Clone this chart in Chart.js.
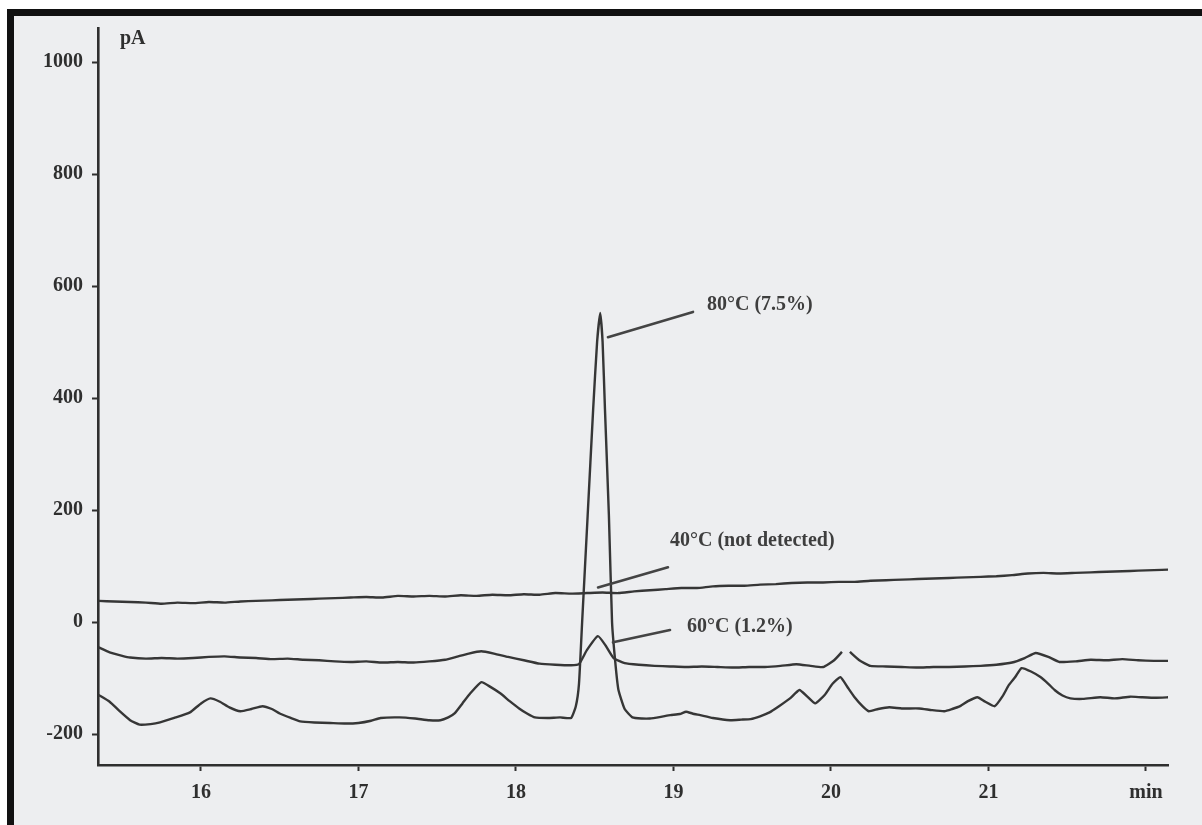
<!DOCTYPE html>
<html>
<head>
<meta charset="utf-8">
<script src="https://cdn.jsdelivr.net/npm/chart.js@4/dist/chart.umd.min.js"></script>
<style>
  html, body { margin: 0; padding: 0; background: #ffffff; }
  #wrap { width: 1202px; height: 825px; }
</style>
</head>
<body>
<div id="wrap"><canvas id="gc" width="1202" height="825"></canvas></div>
<script>
// Retention time (min) and detector signal (pA) for each extraction temperature
const t40 = [15.35, 15.45, 15.55, 15.65, 15.75, 15.85, 15.95, 16.05, 16.15, 16.25,
             16.35, 16.45, 16.55, 16.65, 16.75, 16.85, 16.95, 17.05, 17.15, 17.25,
             17.35, 17.45, 17.55, 17.65, 17.75, 17.85, 17.95, 18.05, 18.15, 18.25,
             18.35, 18.45, 18.55, 18.65, 18.75, 18.85, 18.95, 19.05, 19.15, 19.25,
             19.35, 19.45, 19.55, 19.65, 19.75, 19.85, 19.95, 20.05, 20.15, 20.25,
             20.35, 20.45, 20.55, 20.65, 20.75, 20.85, 20.95, 21.05, 21.15, 21.25,
             21.35, 21.45, 21.55, 21.65, 21.75, 21.85, 21.95, 22.05, 22.15];
const v40 = [38, 37, 36, 35, 33, 35, 34, 36, 35, 37,
             38, 39, 40, 41, 42, 43, 44, 45, 44, 47,
             46, 47, 46, 48, 47, 49, 48, 50, 49, 52,
             51, 52, 53, 52, 55, 57, 59, 61, 61, 64,
             65, 65, 67, 68, 70, 71, 71, 72, 72, 74,
             75, 76, 77, 78, 79, 80, 81, 82, 84, 87,
             88, 87, 88, 89, 90, 91, 92, 93, 94];

const t60 = [15.35, 15.42, 15.5, 15.55, 15.65, 15.75, 15.85, 15.95, 16.05, 16.15,
             16.25, 16.35, 16.45, 16.55, 16.65, 16.75, 16.85, 16.95, 17.05, 17.15,
             17.25, 17.35, 17.45, 17.55, 17.62, 17.7, 17.78, 17.86, 17.95, 18.05,
             18.15, 18.25, 18.35, 18.4, 18.45, 18.52, 18.57, 18.62, 18.69, 18.78,
             18.88, 18.98, 19.08, 19.18, 19.28, 19.38, 19.48, 19.58, 19.68, 19.78,
             19.87, 19.95, 20.02, 20.07, 20.095, 20.12, 20.18, 20.25, 20.35, 20.45,
             20.55, 20.65, 20.75, 20.85, 20.95, 21.05, 21.15, 21.23, 21.3, 21.38,
             21.45, 21.55, 21.65, 21.75, 21.85, 21.95, 22.05, 22.15];
const v60 = [-45, -54, -60, -63, -65, -64, -65, -64, -62, -61,
             -63, -64, -66, -65, -67, -68, -70, -71, -70, -72,
             -71, -72, -70, -67, -62, -56, -52, -56, -62, -68,
             -74, -76, -77, -75, -50, -25, -42, -64, -73, -76,
             -78, -79, -80, -79, -80, -81, -80, -80, -78, -75,
             -78, -80, -68, -53, null, -53, -68, -78, -79, -80,
             -81, -80, -80, -79, -78, -76, -72, -64, -55, -62,
             -71, -70, -67, -68, -66, -68, -69, -69];

const t80 = [15.35, 15.42, 15.48, 15.55, 15.61, 15.68, 15.74, 15.83, 15.93, 16.0,
             16.06, 16.12, 16.18, 16.25, 16.32, 16.39, 16.45, 16.5, 16.57, 16.63,
             16.72, 16.82, 16.92, 17.0, 17.08, 17.14, 17.26, 17.36, 17.45, 17.52,
             17.57, 17.61, 17.66, 17.71, 17.78, 17.84, 17.9, 17.96, 18.02, 18.07,
             18.12, 18.2, 18.28, 18.35, 18.38, 18.4, 18.42, 18.455, 18.49, 18.515,
             18.535, 18.55, 18.565, 18.59, 18.61, 18.63, 18.65, 18.69, 18.74, 18.8,
             18.85, 18.92, 18.98, 19.04, 19.08, 19.12, 19.17, 19.25, 19.36, 19.43,
             19.49, 19.55, 19.61, 19.67, 19.74, 19.8, 19.85, 19.9, 19.96, 20.01,
             20.06, 20.11, 20.15, 20.2, 20.24, 20.3, 20.37, 20.45, 20.56, 20.64,
             20.72, 20.77, 20.82, 20.87, 20.93, 20.98, 21.04, 21.09, 21.13, 21.17,
             21.21, 21.27, 21.33, 21.38, 21.42, 21.47, 21.52, 21.6, 21.71, 21.8,
             21.9, 21.97, 22.06, 22.15];
const v80 = [-130, -142, -158, -175, -183, -182, -179, -171, -161, -145,
             -136, -142, -152, -159, -155, -150, -155, -163, -171, -177,
             -179, -180, -181, -180, -176, -171, -170, -172, -175, -175,
             -170, -163, -145, -127, -107, -116, -127, -141, -154, -163,
             -170, -171, -170, -171, -150, -110, 0, 190, 380, 500,
             552, 500, 380, 190, 0, -70, -120, -155, -170, -172,
             -172, -169, -166, -164, -160, -163, -166, -171, -175, -174,
             -173, -168, -161, -150, -136, -121, -133, -145, -130, -110,
             -98, -118, -134, -150, -159, -155, -152, -154, -154, -157,
             -159, -155, -150, -141, -134, -142, -150, -132, -112, -98,
             -82, -88, -98, -110, -121, -131, -136, -137, -134, -136,
             -133, -134, -135, -134];

// Axis ranges and tick labels
const timeRange = [15.346, 22.14];
const signalRange = [-255, 1061];
const timeTicks = [16, 17, 18, 19, 20, 21, 22];
const timeTickLabels = ['16', '17', '18', '19', '20', '21', 'min'];
const signalUnit = 'pA';

// Peak callouts: label, label anchor (min, pA), leader start and end (min, pA)
const callouts = [
  { text: '80\u00B0C (7.5%)',        at: [19.213, 566], from: [18.584, 509], to: [19.124, 554] },
  { text: '40\u00B0C (not detected)', at: [18.978, 146], from: [18.521, 62],  to: [18.965, 98] },
  { text: '60\u00B0C (1.2%)',        at: [19.086, -9],  from: [18.616, -36], to: [18.978, -14] }
];

const INK = '#2f2f2f';
const TRACE = '#363636';
const LABEL_FONT = 'bold 20px "Liberation Serif", "DejaVu Serif", serif';

function pairs(ts, vs) { return ts.map((t, i) => ({ x: t, y: vs[i] })); }

const traceStyle = {
  borderColor: TRACE, borderWidth: 2.4, pointRadius: 0, tension: 0.15,
  fill: false, spanGaps: false
};

// Scanned-paper backdrop with its dark frame on the top and left
const paperPlugin = {
  id: 'paper',
  beforeDraw(chart) {
    const c = chart.ctx, w = chart.width, h = chart.height;
    c.save();
    c.fillStyle = '#ffffff';
    c.fillRect(0, 0, w, h);
    c.fillStyle = '#111111';
    c.fillRect(7, 9, w - 7, 7);
    c.fillRect(7, 9, 7, h - 9);
    c.fillStyle = '#edeef0';
    c.fillRect(14, 16, w - 14, h - 16);
    c.restore();
  }
};

// Unit label at the head of the signal axis and the peak callouts
const notesPlugin = {
  id: 'notes',
  afterDatasetsDraw(chart) {
    const c = chart.ctx, xs = chart.scales.x, ys = chart.scales.y, a = chart.chartArea;
    c.save();
    c.font = LABEL_FONT;
    c.fillStyle = INK;
    c.textBaseline = 'middle';
    c.textAlign = 'left';
    c.fillText(signalUnit, a.left + 22, a.top + 11);

    c.strokeStyle = '#444444';
    c.lineWidth = 2.6;
    c.lineCap = 'round';
    c.fillStyle = '#3e3e3e';
    callouts.forEach(k => {
      c.beginPath();
      c.moveTo(xs.getPixelForValue(k.from[0]), ys.getPixelForValue(k.from[1]));
      c.lineTo(xs.getPixelForValue(k.to[0]), ys.getPixelForValue(k.to[1]));
      c.stroke();
      c.fillText(k.text, xs.getPixelForValue(k.at[0]), ys.getPixelForValue(k.at[1]));
    });
    c.restore();
  }
};

new Chart(document.getElementById('gc'), {
  type: 'line',
  data: {
    datasets: [
      Object.assign({ label: '40\u00B0C', data: pairs(t40, v40) }, traceStyle),
      Object.assign({ label: '60\u00B0C', data: pairs(t60, v60) }, traceStyle),
      Object.assign({ label: '80\u00B0C', data: pairs(t80, v80) }, traceStyle)
    ]
  },
  options: {
    responsive: false,
    animation: false,
    events: [],
    layout: { padding: { top: 28, right: 34, left: 0, bottom: 0 } },
    plugins: { legend: { display: false }, tooltip: { enabled: false } },
    scales: {
      x: {
        type: 'linear',
        position: 'bottom',
        min: timeRange[0],
        max: timeRange[1],
        afterFit(s) { s.height = 60; },
        afterBuildTicks(s) { s.ticks = timeTicks.map(v => ({ value: v })); },
        ticks: {
          color: INK,
          font: { family: '"Liberation Serif", "DejaVu Serif", serif', size: 20, weight: 'bold' },
          padding: 10,
          maxRotation: 0,
          autoSkip: false,
          callback: (v) => timeTickLabels[timeTicks.indexOf(v)]
        },
        grid: { drawOnChartArea: false, drawTicks: true, tickLength: 6, tickColor: INK, tickWidth: 2 },
        border: { display: true, color: INK, width: 2.6 }
      },
      y: {
        type: 'linear',
        position: 'left',
        min: signalRange[0],
        max: signalRange[1],
        afterFit(s) { s.width = 98; },
        ticks: {
          stepSize: 200,
          includeBounds: false,
          color: INK,
          font: { family: '"Liberation Serif", "DejaVu Serif", serif', size: 20, weight: 'bold' },
          padding: 9,
          callback: (v) => String(v)
        },
        grid: { drawOnChartArea: false, drawTicks: true, tickLength: 6, tickColor: INK, tickWidth: 2 },
        border: { display: true, color: INK, width: 2.6 }
      }
    }
  },
  plugins: [paperPlugin, notesPlugin]
});
</script>
</body>
</html>
